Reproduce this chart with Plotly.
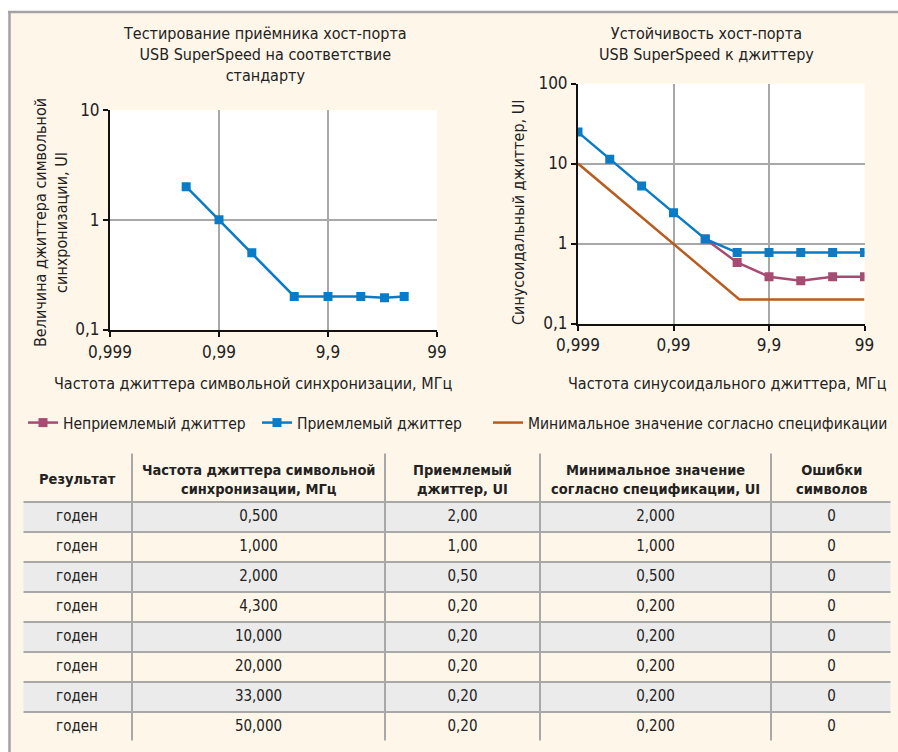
import plotly.graph_objects as go

# ---------------- data ----------------
left_x = [0.5, 1, 2, 4.9, 10, 20, 33, 50]
left_y = [2.0, 1.0, 0.5, 0.2, 0.2, 0.2, 0.195, 0.2]

right_x = [0.1, 0.215, 0.464, 1, 2.15, 4.64, 10, 21.5, 46.4, 100]
right_ok = [24.7, 11.3, 5.25, 2.43, 1.14, 0.77, 0.77, 0.77, 0.77, 0.77]
fail_x = [2.15, 4.64, 10, 21.5, 46.4, 100]
fail_y = [1.14, 0.58, 0.385, 0.343, 0.385, 0.385]
spec_x = [0.1, 4.9, 100]
spec_y = [10, 0.2, 0.2]

x_tickvals = [0.1, 1, 10, 100]
x_ticktext = ["0,999", "0,99", "9,9", "99"]
yl_tickvals = [0.1, 1, 10]
yl_ticktext = ["0,1", "1", "10"]
yr_tickvals = [0.1, 1, 10, 100]
yr_ticktext = ["0,1", "1", "10", "100"]

legend_names = ["Неприемлемый джиттер", "Приемлемый джиттер",
                "Минимальное значение согласно спецификации"]

tbl_headers = ["Результат",
               "Частота джиттера символьной<br>синхронизации, МГц",
               "Приемлемый<br>джиттер, UI",
               "Минимальное значение<br>согласно спецификации, UI",
               "Ошибки<br>символов"]
tbl_result = ["годен", "годен", "годен", "годен", "годен", "годен", "годен", "годен"]
tbl_freq = ["0,500", "1,000", "2,000", "4,300", "10,000", "20,000", "33,000", "50,000"]
tbl_ok = ["2,00", "1,00", "0,50", "0,20", "0,20", "0,20", "0,20", "0,20"]
tbl_spec = ["2,000", "1,000", "0,500", "0,200", "0,200", "0,200", "0,200", "0,200"]
tbl_err = ["0", "0", "0", "0", "0", "0", "0", "0"]

# ---------------- style ----------------
W, H = 898, 752
FONT = "DejaVu Sans Condensed, Liberation Sans Narrow, sans-serif"
CREAM = "#fef6e9"
GRAYROW = "#ebebeb"
GRID = "#a8a8a8"
BLUE = "#0a7bc6"
MAG = "#a84b72"
ORANGE = "#b85d1f"
TXT = "#222222"

TBL_X0, TBL_X1 = 22, 892
TBL_Y0, HDR_H, ROW_H = 452, 50, 30
col_w = [110, 253, 155, 231, 121]


def px(x):
    return x / W


def py(y):
    return 1 - y / H


fig = go.Figure()

# left chart
fig.add_trace(go.Scatter(x=left_x, y=left_y, mode="lines+markers",
                         line=dict(color=BLUE, width=2.5),
                         marker=dict(symbol="square", size=9, color=BLUE),
                         showlegend=False, xaxis="x", yaxis="y"))

# right chart
fig.add_trace(go.Scatter(x=fail_x, y=fail_y, mode="lines+markers", name=legend_names[0],
                         line=dict(color=MAG, width=2.5),
                         marker=dict(symbol="square", size=9, color=MAG),
                         legend="legend", xaxis="x2", yaxis="y2"))
fig.add_trace(go.Scatter(x=right_x, y=right_ok, mode="lines+markers", name=legend_names[1],
                         line=dict(color=BLUE, width=2.5),
                         marker=dict(symbol="square", size=9, color=BLUE),
                         legend="legend2", xaxis="x2", yaxis="y2"))
fig.add_trace(go.Scatter(x=spec_x, y=spec_y, mode="lines", name=legend_names[2],
                         line=dict(color=ORANGE, width=2.5),
                         legend="legend3", xaxis="x2", yaxis="y2"))

# table
n = len(tbl_result)
tbl_y1 = TBL_Y0 + HDR_H + ROW_H * n
row_fill = [GRAYROW if i % 2 == 0 else CREAM for i in range(n)]
fig.add_trace(go.Table(
    domain=dict(x=[px(TBL_X0), px(TBL_X1)], y=[py(tbl_y1), py(TBL_Y0)]),
    columnwidth=col_w,
    header=dict(values=["", "", "", "", ""], height=HDR_H, align="center",
                fill=dict(color=CREAM), line=dict(color=GRID, width=1.5),
                font=dict(family=FONT, size=15, color=TXT)),
    cells=dict(values=[tbl_result, tbl_freq, tbl_ok, tbl_spec, tbl_err],
               height=ROW_H, align="center",
               fill=dict(color=[row_fill] * 5), line=dict(color=GRID, width=1.5),
               font=dict(family=FONT, size=15, color=TXT)),
))

axis_common = dict(type="log", showgrid=True, gridcolor=GRID, gridwidth=1.5,
                   showline=True, linecolor="#111111", linewidth=2,
                   ticks="outside", ticklen=5, tickcolor="#111111", tickwidth=1.5,
                   tickfont=dict(family=FONT, size=17, color=TXT),
                   zeroline=False, automargin=False, mirror=False)

LEG_FONT = dict(family=FONT, size=15.5, color=TXT)
fig.update_layout(
    width=W, height=H,
    margin=dict(l=0, r=0, t=0, b=0),
    paper_bgcolor=CREAM, plot_bgcolor="white",
    font=dict(family=FONT, size=15, color=TXT),
    xaxis=dict(axis_common, domain=[px(110), px(437)], range=[-1, 2],
               tickvals=x_tickvals, ticktext=x_ticktext, anchor="y", ticklabelstandoff=1),
    yaxis=dict(axis_common, domain=[py(329.5), py(110)], range=[-1, 1],
               tickvals=yl_tickvals, ticktext=yl_ticktext, anchor="x"),
    xaxis2=dict(axis_common, domain=[px(578), px(864.5)], range=[-1, 2],
                tickvals=x_tickvals, ticktext=x_ticktext, anchor="y2", ticklabelstandoff=0),
    yaxis2=dict(axis_common, domain=[py(323.5), py(83.5)], range=[-1, 2],
                tickvals=yr_tickvals, ticktext=yr_ticktext, anchor="x2"),
    legend=dict(orientation="h", x=px(23), y=py(423), xanchor="left", yanchor="middle",
                bgcolor="rgba(0,0,0,0)", font=LEG_FONT),
    legend2=dict(orientation="h", x=px(257), y=py(423), xanchor="left", yanchor="middle",
                 bgcolor="rgba(0,0,0,0)", font=LEG_FONT),
    legend3=dict(orientation="h", x=px(488), y=py(423), xanchor="left", yanchor="middle",
                 bgcolor="rgba(0,0,0,0)", font=LEG_FONT),
)

# titles and axis titles
ann = [
    dict(text="Тестирование приёмника хост-порта<br>USB SuperSpeed на соответствие<br>стандарту",
         x=px(265), y=py(55)),
    dict(text="Устойчивость хост-порта<br>USB SuperSpeed к джиттеру", x=px(706), y=py(44)),
    dict(text="Частота джиттера символьной синхронизации, МГц", x=px(253), y=py(383)),
    dict(text="Частота синусоидального джиттера, МГц", x=px(727), y=py(383)),
    dict(text="Величина джиттера символьной<br>синхронизации, UI", x=px(51), y=py(223),
         textangle=-90),
    dict(text="Синусоидальный джиттер, UI", x=px(518), y=py(212), textangle=-90),
]
for a in ann:
    fig.add_annotation(xref="paper", yref="paper", showarrow=False,
                       xanchor="center", yanchor="middle",
                       font=dict(family=FONT, size=16, color=TXT), **a)

# table header texts (bold, centred per line)
cx = TBL_X0
for w, htxt in zip(col_w, tbl_headers):
    fig.add_annotation(xref="paper", yref="paper", showarrow=False,
                       x=px(cx + w / 2), y=py(TBL_Y0 + 27), xanchor="center", yanchor="middle",
                       align="center", text="<b>" + htxt + "</b>",
                       font=dict(family=FONT, size=14.5, color=TXT))
    cx += w

# page frame: white outside strip, grey border top/left
shapes = [
    dict(type="rect", x0=0, x1=1, y0=py(11), y1=1, fillcolor="white", line=dict(width=0)),
    dict(type="rect", x0=0, x1=px(8), y0=0, y1=1, fillcolor="white", line=dict(width=0)),
    dict(type="line", x0=px(8), x1=1, y0=py(12), y1=py(12), line=dict(color="#a3a3a3", width=2.5)),
    dict(type="line", x0=px(9.5), x1=px(9.5), y0=0, y1=py(11), line=dict(color="#a3a3a3", width=2.5)),
    # hide outer table border
    dict(type="line", x0=px(20), x1=px(895), y0=py(TBL_Y0), y1=py(TBL_Y0), line=dict(color=CREAM, width=3)),
    dict(type="line", x0=px(20), x1=px(895), y0=py(tbl_y1), y1=py(tbl_y1), line=dict(color=CREAM, width=3)),
    dict(type="line", x0=px(TBL_X0), x1=px(TBL_X0), y0=py(tbl_y1 + 2), y1=py(TBL_Y0 - 2),
         line=dict(color=CREAM, width=3)),
    dict(type="line", x0=px(TBL_X1), x1=px(TBL_X1), y0=py(tbl_y1 + 2), y1=py(TBL_Y0 - 2),
         line=dict(color=CREAM, width=3)),
]
for s in shapes:
    fig.add_shape(xref="paper", yref="paper", layer="above", **s)

fig.write_html("out.html", config={"displayModeBar": False},
               post_script="document.body.style.margin='0';document.body.style.overflow='hidden';")
